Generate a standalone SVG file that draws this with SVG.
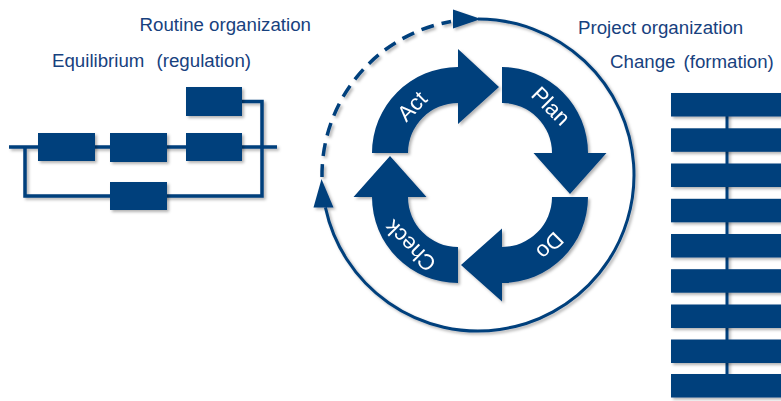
<svg xmlns="http://www.w3.org/2000/svg" width="781" height="401" viewBox="0 0 781 401">
  <defs>
    <filter id="sh" x="-10%" y="-10%" width="130%" height="130%">
      <feDropShadow dx="2" dy="2" stdDeviation="1.4" flood-color="#000" flood-opacity="0.3"/>
    </filter>
  </defs>
  <style>
    .blk { fill: #023f7c; }
    .ln { fill: none; stroke: #023f7c; stroke-width: 3.5; }
    .lbl { font-family: "Liberation Sans", Arial, sans-serif; font-size: 18.7px; fill: #17417e; }
    .wt { font-family: "Liberation Sans", Arial, sans-serif; font-size: 22px; fill: #ffffff; text-anchor: middle; }
  </style>
  <rect width="781" height="401" fill="#ffffff"/>

  <!-- labels -->
  <text class="lbl" x="139.5" y="31">Routine organization</text>
  <text class="lbl" x="52" y="67">Equilibrium</text>
  <text class="lbl" x="156.5" y="67">(regulation)</text>
  <text class="lbl" x="578" y="34">Project organization</text>
  <text class="lbl" x="610" y="68">Change</text>
  <text class="lbl" x="683.5" y="68">(formation)</text>

  <!-- connectors -->
  <g id="connectors" filter="url(#sh)">
    <path class="ln" d="M9,147 H277"/>
    <path class="ln" d="M242,101.5 H262 V196 H25 V147"/>
    <path class="ln" d="M727,105 V386" style="stroke-width:3"/>
    <path class="ln" d="M478,19 A156 156 0 1 1 325.4,207.4" style="stroke-width:3"/>
    <polygon class="blk" points="321.5,179 313.5,207.5 333.5,207.5"/>
    <path class="ln" d="M322,177 A156 156 0 0 1 451,21.5" style="stroke-width:3.5;stroke-dasharray:13 8"/>
    <polygon class="blk" points="481,19 453,9.5 453,28.5"/>
  </g>

  <!-- left block diagram -->
  <g id="box1" filter="url(#sh)"><rect class="blk" x="38" y="133" width="57" height="28"/></g>
  <g id="box2" filter="url(#sh)"><rect class="blk" x="110" y="133" width="57" height="29"/></g>
  <g id="box3" filter="url(#sh)"><rect class="blk" x="186" y="133" width="56" height="28"/></g>
  <g id="box4" filter="url(#sh)"><rect class="blk" x="186" y="87" width="56" height="29"/></g>
  <g id="box5" filter="url(#sh)"><rect class="blk" x="110" y="182" width="57" height="28"/></g>

  <!-- PDCA cycle -->
  <g id="plan" filter="url(#sh)">
    <path class="blk" d="M502,67 A86 86 0 0 1 588,153 L606.5,153 L570,194 L533.5,153 L552,153 A50 50 0 0 0 502,103 Z"/>
    <text class="wt" x="551" y="106" dy="0.35em" transform="rotate(45 551 106)">Plan</text>
  </g>
  <g id="do" filter="url(#sh)">
    <path class="blk" d="M588,197 A86 86 0 0 1 502,283 L502,301.5 L461,265 L502,228.5 L502,247 A50 50 0 0 0 552,197 Z"/>
    <text class="wt" x="550" y="246" dy="0.35em" transform="rotate(135 550 246)">Do</text>
  </g>
  <g id="check" filter="url(#sh)">
    <path class="blk" d="M458,283 A86 86 0 0 1 372,197 L353.5,197 L390,156 L426.5,197 L408,197 A50 50 0 0 0 458,247 Z"/>
    <text class="wt" x="410" y="246" dy="0.35em" transform="rotate(-135 410 246)">Check</text>
  </g>
  <g id="act" filter="url(#sh)">
    <path class="blk" d="M372,153 A86 86 0 0 1 458,67 L458,49 L499,87 L458,124 L458,103 A50 50 0 0 0 408,153 Z"/>
    <text class="wt" x="412" y="106" dy="0.35em" transform="rotate(-45 412 106)">Act</text>
  </g>

  <!-- right stack -->
  <g id="bar1" filter="url(#sh)"><rect class="blk" x="671" y="93" width="115" height="23.5"/></g>
  <g id="bar2" filter="url(#sh)"><rect class="blk" x="671" y="128.3" width="115" height="23.5"/></g>
  <g id="bar3" filter="url(#sh)"><rect class="blk" x="671" y="163.5" width="115" height="23.5"/></g>
  <g id="bar4" filter="url(#sh)"><rect class="blk" x="671" y="198.8" width="115" height="23.5"/></g>
  <g id="bar5" filter="url(#sh)"><rect class="blk" x="671" y="234" width="115" height="23.5"/></g>
  <g id="bar6" filter="url(#sh)"><rect class="blk" x="671" y="269.2" width="115" height="23.5"/></g>
  <g id="bar7" filter="url(#sh)"><rect class="blk" x="671" y="304.5" width="115" height="23.5"/></g>
  <g id="bar8" filter="url(#sh)"><rect class="blk" x="671" y="339.5" width="115" height="23.5"/></g>
  <g id="bar9" filter="url(#sh)"><rect class="blk" x="671" y="374" width="115" height="23.5"/></g>
</svg>
